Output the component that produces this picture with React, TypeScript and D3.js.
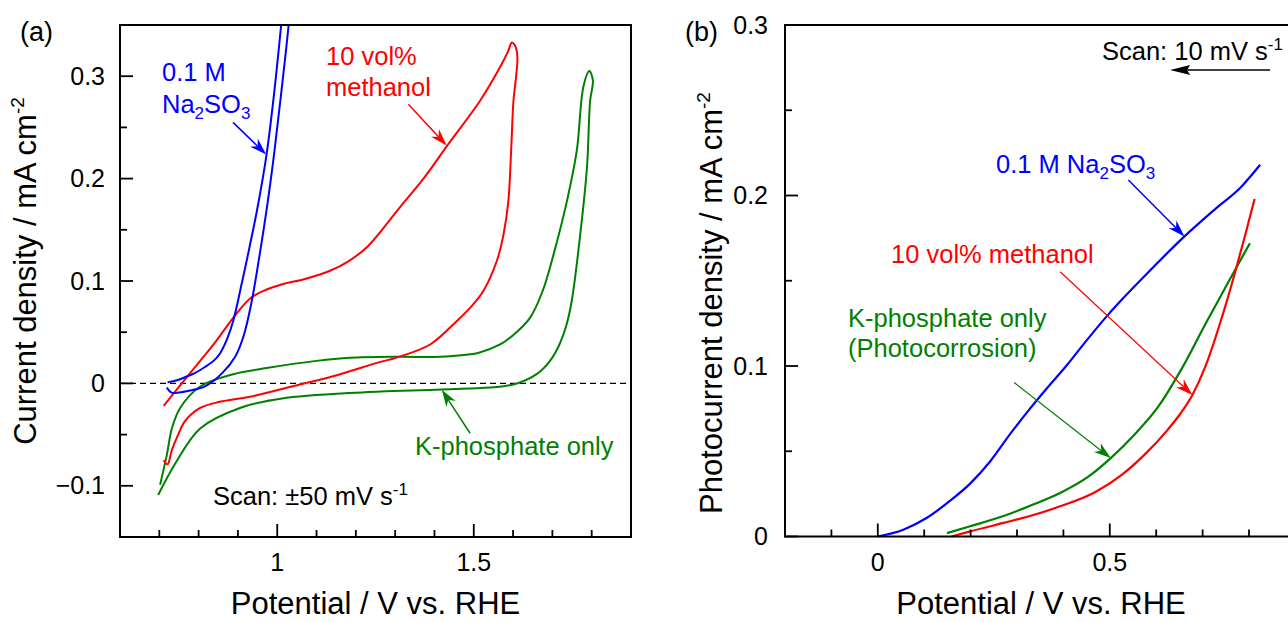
import React from 'react';
import * as d3 from 'd3';

type Pt = [number, number];

// ---- Panel (a): cyclic voltammograms (potential V vs RHE, current density mA cm^-2)
// Each loop: positive-going scan followed by the return scan.
const cvSulfite: Pt[] = [
  [0.721, 0.001], [0.745, 0.003], [0.765, 0.006], [0.790, 0.010], [0.816, 0.016], [0.838, 0.022],
  [0.854, 0.029], [0.872, 0.043], [0.888, 0.061], [0.910, 0.098], [0.930, 0.134], [0.950, 0.172],
  [0.973, 0.224], [0.992, 0.283], [1.010, 0.350], [1.022, 0.400],
  [1.040, 0.400], [1.029, 0.350], [1.010, 0.283], [0.992, 0.224], [0.975, 0.175], [0.955, 0.125],
  [0.935, 0.080], [0.915, 0.047], [0.893, 0.026], [0.860, 0.010], [0.816, -0.003], [0.778, -0.007],
  [0.750, -0.009], [0.731, -0.009], [0.719, -0.004],
];

const cvMethanol: Pt[] = [
  [0.711, -0.022], [0.753, -0.002], [0.804, 0.022], [0.842, 0.040], [0.888, 0.064], [0.931, 0.083],
  [0.969, 0.091], [1.015, 0.097], [1.071, 0.102], [1.134, 0.110], [1.180, 0.119], [1.228, 0.133],
  [1.312, 0.172], [1.376, 0.202], [1.432, 0.232], [1.516, 0.276], [1.567, 0.309], [1.587, 0.324],
  [1.597, 0.333], [1.605, 0.330], [1.611, 0.319],
  [1.608, 0.301], [1.601, 0.276], [1.595, 0.227], [1.588, 0.178], [1.575, 0.144], [1.559, 0.120],
  [1.524, 0.090], [1.491, 0.074], [1.457, 0.061], [1.389, 0.038], [1.302, 0.025], [1.262, 0.021],
  [1.142, 0.007], [1.058, -0.001], [0.931, -0.013], [0.854, -0.018], [0.804, -0.024], [0.765, -0.037],
  [0.748, -0.050], [0.732, -0.065], [0.721, -0.079], [0.711, -0.075],
];

const cvPhosphate: Pt[] = [
  [0.702, -0.099], [0.719, -0.070], [0.732, -0.044], [0.753, -0.024], [0.804, -0.003], [0.888, 0.009],
  [0.973, 0.015], [1.100, 0.022], [1.185, 0.025], [1.312, 0.026], [1.414, 0.026], [1.513, 0.030],
  [1.567, 0.038], [1.600, 0.047], [1.643, 0.064], [1.675, 0.090], [1.703, 0.126], [1.737, 0.178],
  [1.762, 0.227], [1.779, 0.290], [1.794, 0.305], [1.803, 0.296],
  [1.796, 0.276], [1.788, 0.211], [1.771, 0.146], [1.749, 0.080], [1.735, 0.056], [1.718, 0.038],
  [1.694, 0.022], [1.660, 0.009], [1.601, -0.001], [1.419, -0.006], [1.262, -0.008], [1.024, -0.014],
  [0.905, -0.024], [0.804, -0.044], [0.744, -0.076], [0.697, -0.109],
];

// ---- Panel (b): photocurrent, cathodic-going scan (potential V vs RHE, mA cm^-2)
const lsvSulfite: Pt[] = [
  [0.000, 0.000], [0.055, 0.004], [0.106, 0.011], [0.156, 0.021], [0.199, 0.031], [0.242, 0.044],
  [0.285, 0.060], [0.328, 0.075], [0.371, 0.089], [0.406, 0.100], [0.447, 0.114], [0.496, 0.130],
  [0.583, 0.155], [0.661, 0.176], [0.727, 0.192], [0.783, 0.205], [0.824, 0.218],
];

const lsvMethanol: Pt[] = [
  [0.159, 0.000], [0.199, 0.003], [0.271, 0.008], [0.328, 0.012], [0.396, 0.018], [0.468, 0.026],
  [0.525, 0.036], [0.575, 0.048], [0.626, 0.063], [0.652, 0.072], [0.678, 0.083], [0.705, 0.099],
  [0.741, 0.128], [0.769, 0.154], [0.791, 0.176], [0.812, 0.198],
];

const lsvPhosphate: Pt[] = [
  [0.149, 0.002], [0.199, 0.006], [0.271, 0.012], [0.328, 0.018], [0.396, 0.026], [0.453, 0.035],
  [0.502, 0.046], [0.554, 0.060], [0.604, 0.076], [0.652, 0.097], [0.705, 0.124], [0.755, 0.149],
  [0.802, 0.172],
];

// ---- Axis ticks
const xMajorA = [1, 1.5];
const xMinorA = [0.7, 0.8, 0.9, 1.1, 1.2, 1.3, 1.4, 1.6, 1.7, 1.8];
const yMajorA = [-0.1, 0, 0.1, 0.2, 0.3];
const yMinorA = [-0.05, 0.05, 0.15, 0.25];

const xMajorB = [0, 0.5];
const xMinorB = [-0.1, 0.1, 0.2, 0.3, 0.4, 0.6, 0.7, 0.8, 0.9];
const yMajorB = [0, 0.1, 0.2, 0.3];
const yMinorB = [0.05, 0.15, 0.25];

const BLUE = '#0000ff';
const RED = '#ff0000';
const GREEN = '#008000';
const FONT = '"Liberation Sans", Arial, Helvetica, sans-serif';

const fmt = (v: number) => (v === 0 ? '0' : v < 0 ? '\u2212' + String(Math.abs(v)) : String(v));

type ArrowProps = {
  x1: number; y1: number; x2: number; y2: number;
  color: string; width?: number; len?: number; half?: number; notch?: number;
};

function Arrow({ x1, y1, x2, y2, color, width = 1.5, len = 17, half = 5.5, notch = 5 }: ArrowProps) {
  const a = Math.atan2(y2 - y1, x2 - x1);
  const ux = Math.cos(a), uy = Math.sin(a);
  const nx = -uy, ny = ux;
  const bx = x2 - ux * len, by = y2 - uy * len;
  const mx = x2 - ux * (len - notch), my = y2 - uy * (len - notch);
  const pts = [
    [x2, y2], [bx + nx * half, by + ny * half], [mx, my], [bx - nx * half, by - ny * half],
  ].map((p) => p.join(',')).join(' ');
  return (
    <g>
      <line x1={x1} y1={y1} x2={mx} y2={my} stroke={color} strokeWidth={width} />
      <polygon points={pts} fill={color} />
    </g>
  );
}

export default function App() {
  // panel (a) frame
  const a = { l: 120, r: 631, t: 25, b: 537 };
  const xA = d3.scaleLinear().domain([0.6, 1.9]).range([a.l, a.r]);
  const yA = d3.scaleLinear().domain([-0.15, 0.35]).range([a.b, a.t]);

  // panel (b) frame (extends past the right edge of the canvas)
  const b = { l: 785, t: 25, b: 536.5 };
  const xB = d3.scaleLinear().domain([-0.2, 1.0]).range([b.l, b.l + 464 * 1.2]);
  const yB = d3.scaleLinear().domain([0, 0.3]).range([b.b, b.t]);

  const lineA = d3.line<Pt>().x((d) => xA(d[0])).y((d) => yA(d[1])).curve(d3.curveCatmullRom.alpha(0.5));
  const lineB = d3.line<Pt>().x((d) => xB(d[0])).y((d) => yB(d[1])).curve(d3.curveMonotoneX);

  const MAJ = 13, MIN = 7;
  const tickFs = 25;
  const labFs = 31;
  const annFs = 25.5;

  return (
    <div style={{ position: 'absolute', left: 0, top: 0 }}>
      <svg width={1288} height={622} viewBox="0 0 1288 622" style={{ display: 'block', background: '#fff' }}
        fontFamily={FONT}>
        <defs>
          <clipPath id="clipA">
            <rect x={a.l} y={a.t} width={a.r - a.l} height={a.b - a.t} />
          </clipPath>
        </defs>

        {/* ===================== Panel (a) ===================== */}
        <text x={20} y={41} fontSize={27} fill="#000">(a)</text>

        {/* zero-current reference */}
        <line x1={a.l} x2={a.r} y1={yA(0)} y2={yA(0)} stroke="#000" strokeWidth={1.2} strokeDasharray="6,4" />

        <g clipPath="url(#clipA)" fill="none" strokeWidth={2} strokeLinejoin="round">
          <path d={lineA(cvPhosphate) ?? ''} stroke={GREEN} />
          <path d={lineA(cvMethanol) ?? ''} stroke={RED} />
          <path d={lineA(cvSulfite) ?? ''} stroke={BLUE} />
        </g>

        {/* ticks */}
        <g stroke="#000" strokeWidth={1.8}>
          {xMajorA.map((v) => <line key={'xa' + v} x1={xA(v)} x2={xA(v)} y1={a.b} y2={a.b - MAJ} />)}
          {xMinorA.map((v) => <line key={'xm' + v} x1={xA(v)} x2={xA(v)} y1={a.b} y2={a.b - MIN} />)}
          {yMajorA.map((v) => <line key={'ya' + v} x1={a.l} x2={a.l + MAJ} y1={yA(v)} y2={yA(v)} />)}
          {yMinorA.map((v) => <line key={'ym' + v} x1={a.l} x2={a.l + MIN} y1={yA(v)} y2={yA(v)} />)}
        </g>
        <rect x={a.l} y={a.t} width={a.r - a.l} height={a.b - a.t} fill="none" stroke="#000" strokeWidth={2} />

        <g fontSize={tickFs} fill="#000">
          {xMajorA.map((v) => <text key={'xl' + v} x={xA(v)} y={571} textAnchor="middle">{fmt(v)}</text>)}
          {yMajorA.map((v) => <text key={'yl' + v} x={a.l - 15} y={yA(v) + 8.5} textAnchor="end">{fmt(v)}</text>)}
        </g>

        <text x={(a.l + a.r) / 2} y={614} fontSize={labFs} textAnchor="middle" fill="#000">Potential / V vs. RHE</text>
        <text transform={`translate(36,${271}) rotate(-90)`} fontSize={labFs} textAnchor="middle" fill="#000">
          Current density / mA cm<tspan dy={-12} fontSize={19}>-2</tspan>
        </text>

        {/* annotations */}
        <g fontSize={annFs}>
          <text x={162} y={81} fill={BLUE}>0.1 M</text>
          <text x={162} y={113} fill={BLUE}>
            Na<tspan dy={6} fontSize={17}>2</tspan><tspan dy={-6}>SO</tspan><tspan dy={6} fontSize={17}>3</tspan>
          </text>
          <text x={326} y={65} fill={RED}>10 vol%</text>
          <text x={326} y={96} fill={RED}>methanol</text>
          <text x={415} y={455} fill={GREEN}>K-phosphate only</text>
          <text x={213} y={505} fill="#000">
            Scan: ±50 mV s<tspan dy={-10} fontSize={17}>-1</tspan>
          </text>
        </g>
        <Arrow x1={xA(0.8875)} y1={yA(0.2549)} x2={xA(0.972)} y2={yA(0.2235)} color={BLUE} />
        <Arrow x1={xA(1.3336)} y1={yA(0.2725)} x2={xA(1.431)} y2={yA(0.2324)} color={RED} />
        <Arrow x1={xA(1.4906)} y1={yA(-0.0487)} x2={xA(1.4186)} y2={yA(-0.0062)} color={GREEN} />

        {/* ===================== Panel (b) ===================== */}
        <text x={685} y={41} fontSize={27} fill="#000">(b)</text>

        <g fill="none" strokeWidth={2.2} strokeLinejoin="round">
          <path d={lineB(lsvSulfite) ?? ''} stroke={BLUE} />
          <path d={lineB(lsvPhosphate) ?? ''} stroke={GREEN} />
          <path d={lineB(lsvMethanol) ?? ''} stroke={RED} />
        </g>

        <g stroke="#000" strokeWidth={1.8}>
          {xMajorB.map((v) => <line key={'xb' + v} x1={xB(v)} x2={xB(v)} y1={b.b} y2={b.b - MAJ} />)}
          {xMinorB.map((v) => <line key={'xbm' + v} x1={xB(v)} x2={xB(v)} y1={b.b} y2={b.b - MIN} />)}
          {yMajorB.map((v) => <line key={'yb' + v} x1={b.l} x2={b.l + MAJ} y1={yB(v)} y2={yB(v)} />)}
          {yMinorB.map((v) => <line key={'ybm' + v} x1={b.l} x2={b.l + MIN} y1={yB(v)} y2={yB(v)} />)}
        </g>
        <rect x={b.l} y={b.t} width={xB(1.0) - b.l} height={b.b - b.t} fill="none" stroke="#000" strokeWidth={2} />

        <g fontSize={tickFs} fill="#000">
          {xMajorB.map((v) => <text key={'xbl' + v} x={xB(v)} y={571} textAnchor="middle">{fmt(v)}</text>)}
          {yMajorB.map((v) => <text key={'ybl' + v} x={b.l - 17} y={yB(v) + 8.5} textAnchor="end">{fmt(v)}</text>)}
        </g>

        <text x={1041} y={614} fontSize={labFs} textAnchor="middle" fill="#000">Potential / V vs. RHE</text>
        <text transform={`translate(722,${303}) rotate(-90)`} fontSize={labFs} textAnchor="middle" fill="#000">
          Photocurrent density / mA cm<tspan dy={-12} fontSize={19}>-2</tspan>
        </text>

        <g fontSize={annFs}>
          <text x={1102} y={60} fill="#000">
            Scan: 10 mV s<tspan dy={-10} fontSize={17}>-1</tspan>
          </text>
          <text x={996} y={173} fill={BLUE}>
            0.1 M Na<tspan dy={6} fontSize={17}>2</tspan><tspan dy={-6}>SO</tspan><tspan dy={6} fontSize={17}>3</tspan>
          </text>
          <text x={891} y={263} fill={RED}>10 vol% methanol</text>
          <text x={848} y={327} fill={GREEN}>K-phosphate only</text>
          <text x={848} y={357} fill={GREEN}>(Photocorrosion)</text>
        </g>
        <Arrow x1={xB(0.8455)} y1={yB(0.2736)} x2={xB(0.63)} y2={yB(0.2736)} color="#000" width={1.5} len={20} half={5} notch={3} />
        <Arrow x1={xB(0.540)} y1={yB(0.2091)} x2={xB(0.661)} y2={yB(0.176)} color={BLUE} width={1.5} />
        <Arrow x1={xB(0.393)} y1={yB(0.1553)} x2={xB(0.678)} y2={yB(0.083)} color={RED} width={1.2} />
        <Arrow x1={xB(0.2938)} y1={yB(0.0903)} x2={xB(0.502)} y2={yB(0.046)} color={GREEN} width={1.2} />
      </svg>
    </div>
  );
}
